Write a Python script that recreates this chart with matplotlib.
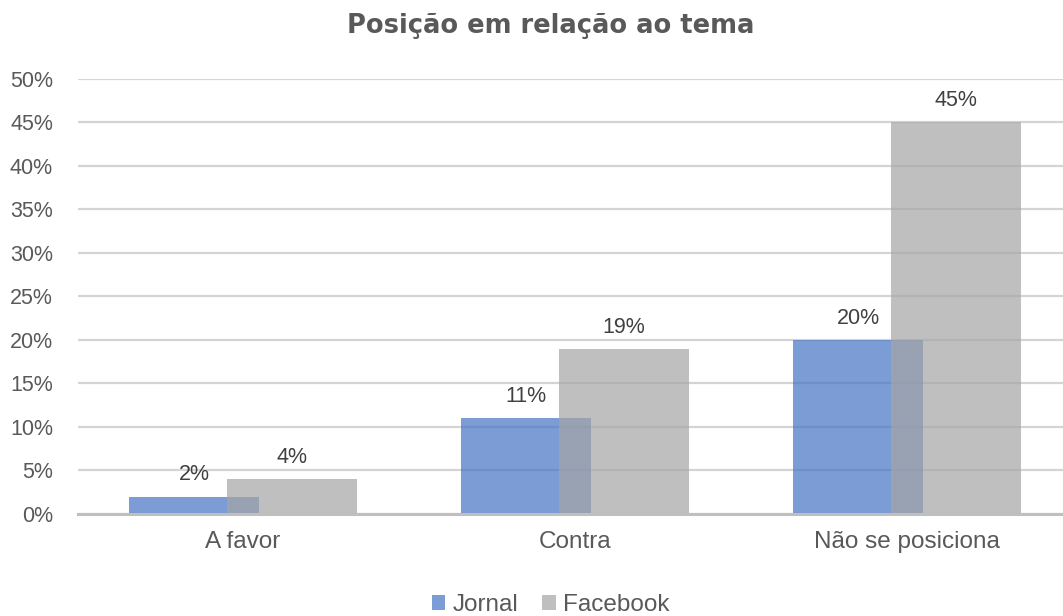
import matplotlib.pyplot as plt
import numpy as np

# dados
categorias = ['A favor', 'Contra', 'Não se posiciona']
jornal = [0.02, 0.11, 0.20]
facebook = [0.04, 0.19, 0.45]
yticks = [0, 0.05, 0.10, 0.15, 0.20, 0.25, 0.30, 0.35, 0.40, 0.45, 0.50]

plt.rcParams['font.family'] = ['Liberation Sans', 'DejaVu Sans']

fig = plt.figure(figsize=(10.63, 6.16), dpi=100)
ax = fig.add_axes([0.0734, 0.1656, 0.9266, 0.7062])

x = np.arange(len(categorias))
w = 0.39
off = 0.147

b1 = ax.bar(x - off, jornal, w, color='#4472C4', alpha=0.7, label='Jornal', zorder=2)
b2 = ax.bar(x + off, facebook, w, color='#A5A5A5', alpha=0.7, label='Facebook', zorder=3)

for bars, vals in ((b1, jornal), (b2, facebook)):
    for r, v in zip(bars, vals):
        ax.annotate(f'{v*100:.0f}%', (r.get_x() + r.get_width() / 2, v),
                    xytext=(0, 8), textcoords='offset points',
                    ha='center', va='bottom', fontsize=15.5, color='#404040')

ax.set_xlim(-0.497, 2.47)
ax.set_ylim(0, 0.5)
ax.set_yticks(yticks)
ax.set_yticklabels([f'{t*100:.0f}%' for t in yticks], fontsize=15.5)
ax.set_xticks(x)
ax.set_xticklabels(categorias, fontsize=17.5)
ax.tick_params(axis='both', length=0, colors='#595959')
ax.tick_params(axis='y', pad=18)
ax.tick_params(axis='x', pad=12)
ax.yaxis.grid(True, color='#D4D4D4', lw=1.6)
ax.set_axisbelow(True)
for s in ['top', 'right', 'left']:
    ax.spines[s].set_visible(False)
ax.spines['bottom'].set_color('#BFBFBF')
ax.spines['bottom'].set_linewidth(2.2)
ax.spines['bottom'].set_zorder(4)

fig.text(0.518, 0.957, 'Posição em relação ao tema', ha='center', va='center',
         fontsize=18.5, fontweight='bold', color='#595959', family='DejaVu Sans')

fig.legend(loc='center', bbox_to_anchor=(0.518, 0.018), ncol=2, frameon=False,
           fontsize=17.5, handlelength=0.55, handleheight=0.55, handletextpad=0.3,
           columnspacing=1.0, labelcolor='#595959')

fig.savefig('out.png', dpi=100)
